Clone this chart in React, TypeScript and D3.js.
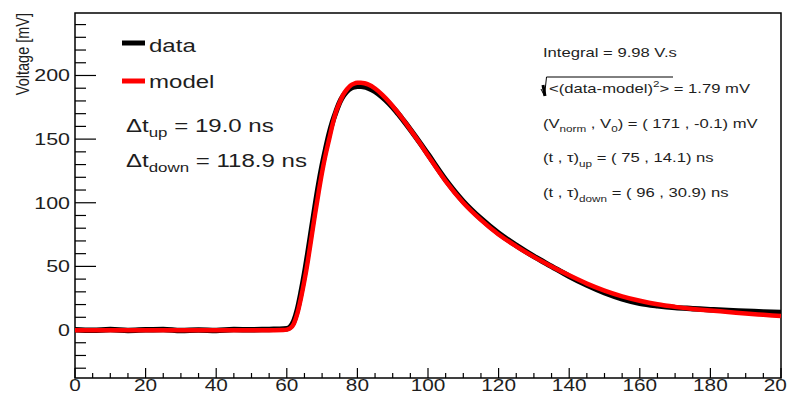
import * as d3 from 'd3'

// time samples [ns] and voltages [mV]
const dataTime = [0, 5, 10, 15, 20, 25, 30, 35, 40, 45, 50, 55, 58, 60, 61, 62, 63, 64, 65, 66, 67, 68, 69, 70, 71, 72, 73, 74, 75, 76, 77, 78, 79, 80, 81, 82, 83, 85, 87, 89, 91, 93, 95, 98, 100, 105, 110, 115, 120, 125, 130, 135, 140, 145, 150, 155, 160, 165, 170, 175, 180, 185, 190, 195, 200]
const dataVolt = [0.3, -0.2, 0.4, -0.3, 0.2, 0.5, -0.4, 0.1, -0.3, 0.4, 0.2, 0.5, 0.6, 1, 2.5, 7, 16, 29, 44, 61, 79, 97, 114, 129, 142, 154, 164, 172, 179, 184, 187.5, 189.8, 191, 191.5, 191.5, 191.2, 190.3, 187.5, 183.2, 178, 171.8, 164.8, 157.5, 146, 138, 118, 101, 87.5, 76, 66.5, 57.8, 50, 42.2, 35.3, 29.3, 24.5, 21, 19, 17.6, 16.8, 16, 15.3, 14.8, 14.2, 13.8]

const modelTime = [0, 20, 40, 55, 59, 60, 61, 62, 63, 64, 65, 66, 67, 68, 69, 70, 71, 72, 73, 74, 75, 76, 77, 78, 79, 80, 81, 82, 83, 85, 87, 89, 91, 93, 95, 98, 100, 105, 110, 115, 120, 125, 130, 135, 140, 145, 150, 155, 160, 165, 170, 175, 180, 185, 190, 195, 200]
const modelVolt = [-0.1, -0.1, -0.1, -0.1, 0, 0.3, 1.5, 5, 13, 25, 39, 55, 73, 91, 108, 124, 138, 150, 162, 172, 179, 185, 189, 192, 193.5, 194.2, 194.3, 193.9, 193, 189.8, 185, 179.2, 172.5, 165.2, 157.5, 145.5, 137.2, 117, 100, 86.5, 75, 65.8, 57.5, 50, 43, 36.5, 31, 26.5, 23, 20.2, 18.2, 16.6, 15.3, 14.2, 13, 12, 11]

const xMajorTicks = [0, 20, 40, 60, 80, 100, 120, 140, 160, 180, 200]
const yMajorTicks = [0, 50, 100, 150, 200]

const width = 787
const height = 394
const plot = { left: 75, right: 781, top: 13, bottom: 378 }
const font = 'Liberation Sans, Arial, Helvetica, sans-serif'
const sx = 1.3 // text in the reference is stretched horizontally
const ink = '#1e1e1e'

const Label = ({ x, y, size, anchor = 'start', children }: any) => (
  <text
    transform={`translate(${x},${y}) scale(${sx},1)`}
    fontFamily={font}
    fontSize={size}
    fill={ink}
    textAnchor={anchor}
  >
    {children}
  </text>
)

export default function App() {
  const x = d3.scaleLinear().domain([0, 200]).range([plot.left, plot.right])
  const y = d3.scaleLinear().domain([-37.7, 249.1]).range([plot.bottom, plot.top])

  const line = d3
    .line<[number, number]>()
    .x(d => x(d[0]))
    .y(d => y(d[1]))
    .curve(d3.curveMonotoneX)

  const dataPath = line(dataTime.map((t, i) => [t, dataVolt[i]])) || ''
  const modelPath = line(modelTime.map((t, i) => [t, modelVolt[i]])) || ''

  const xMinor = d3.range(0, 201, 5).filter(v => v % 20 !== 0)
  const yMinor = d3.range(-30, 249, 10).filter(v => v % 50 !== 0)

  return (
    <svg
      width={width}
      height={height}
      style={{ position: 'fixed', left: 0, top: 0, background: '#fff' }}
    >
      <defs>
        <clipPath id="plotArea">
          <rect x={plot.left} y={plot.top} width={plot.right - plot.left} height={plot.bottom - plot.top} />
        </clipPath>
      </defs>

      {/* frame */}
      <rect
        x={plot.left}
        y={plot.top}
        width={plot.right - plot.left}
        height={plot.bottom - plot.top}
        fill="none"
        stroke="#000"
        strokeWidth={1.5}
      />

      {/* y ticks */}
      {yMajorTicks.map(v => (
        <g key={'ym' + v}>
          <line x1={plot.left} x2={plot.left + 21} y1={y(v)} y2={y(v)} stroke="#000" strokeWidth={1.2} />
          <Label x={plot.left - 5} y={y(v) + 6} size={16.5} anchor="end">{v}</Label>
        </g>
      ))}
      {yMinor.map(v => (
        <line key={'yn' + v} x1={plot.left} x2={plot.left + 11} y1={y(v)} y2={y(v)} stroke="#000" strokeWidth={1.2} />
      ))}

      {/* x ticks */}
      {xMajorTicks.map(v => (
        <g key={'xm' + v}>
          <line x1={x(v)} x2={x(v)} y1={plot.bottom} y2={plot.bottom - 10} stroke="#000" strokeWidth={1.2} />
          <Label x={x(v)} y={391} size={16} anchor="middle">{v}</Label>
        </g>
      ))}
      {xMinor.map(v => (
        <line key={'xn' + v} x1={x(v)} x2={x(v)} y1={plot.bottom} y2={plot.bottom - 5} stroke="#000" strokeWidth={1.2} />
      ))}

      {/* y title */}
      <text
        transform={`translate(29,13) rotate(-90) scale(1,${sx})`}
        fontFamily={font}
        fontSize={14.5}
        fill={ink}
        textAnchor="end"
      >
        Voltage [mV]
      </text>

      {/* curves */}
      <g clipPath="url(#plotArea)">
        <path d={dataPath} fill="none" stroke="#000" strokeWidth={5.5} strokeLinejoin="round" />
        <path d={modelPath} fill="none" stroke="#ff0000" strokeWidth={4.5} strokeLinejoin="round" />
      </g>

      {/* legend */}
      <line x1={122} x2={145} y1={43} y2={43} stroke="#000" strokeWidth={5} />
      <Label x={149} y={51.7} size={18.5}>data</Label>
      <line x1={122} x2={145} y1={81} y2={81} stroke="#ff0000" strokeWidth={5} />
      <Label x={149} y={88.3} size={18.5}>model</Label>

      <Label x={126} y={131.7} size={18.5}>
        Δt<tspan fontSize={13} dy={5}>up</tspan>
        <tspan dy={-5}> = 19.0 ns</tspan>
      </Label>
      <Label x={126} y={166.7} size={18.5}>
        Δt<tspan fontSize={13} dy={5}>down</tspan>
        <tspan dy={-5}> = 118.9 ns</tspan>
      </Label>

      {/* fit summary */}
      <Label x={543} y={56.7} size={12.8}>Integral = 9.98 V.s</Label>

      <path d="M541,89 L544.5,96 L546.5,77 L673,77" fill="none" stroke="#000" strokeWidth={1} />
      <path d="M543,85 L545,96" fill="none" stroke="#000" strokeWidth={3} />
      <Label x={549} y={93.3} size={12.8}>
        {'<(data-model)'}
        <tspan fontSize={9} dy={-6}>2</tspan>
        <tspan dy={6}>{'> = 1.79 mV'}</tspan>
      </Label>

      <Label x={543} y={127.7} size={12.8}>
        (V<tspan fontSize={9} dy={4}>norm</tspan>
        <tspan dy={-4}> , V</tspan>
        <tspan fontSize={9} dy={4}>0</tspan>
        <tspan dy={-4}>) = ( 171 , -0.1) mV</tspan>
      </Label>
      <Label x={543} y={161.7} size={12.8}>
        (t , τ)<tspan fontSize={9} dy={5}>up</tspan>
        <tspan dy={-5}> = ( 75 , 14.1) ns</tspan>
      </Label>
      <Label x={543} y={196.7} size={12.8}>
        (t , τ)<tspan fontSize={9} dy={5}>down</tspan>
        <tspan dy={-5}> = ( 96 , 30.9) ns</tspan>
      </Label>
    </svg>
  )
}
